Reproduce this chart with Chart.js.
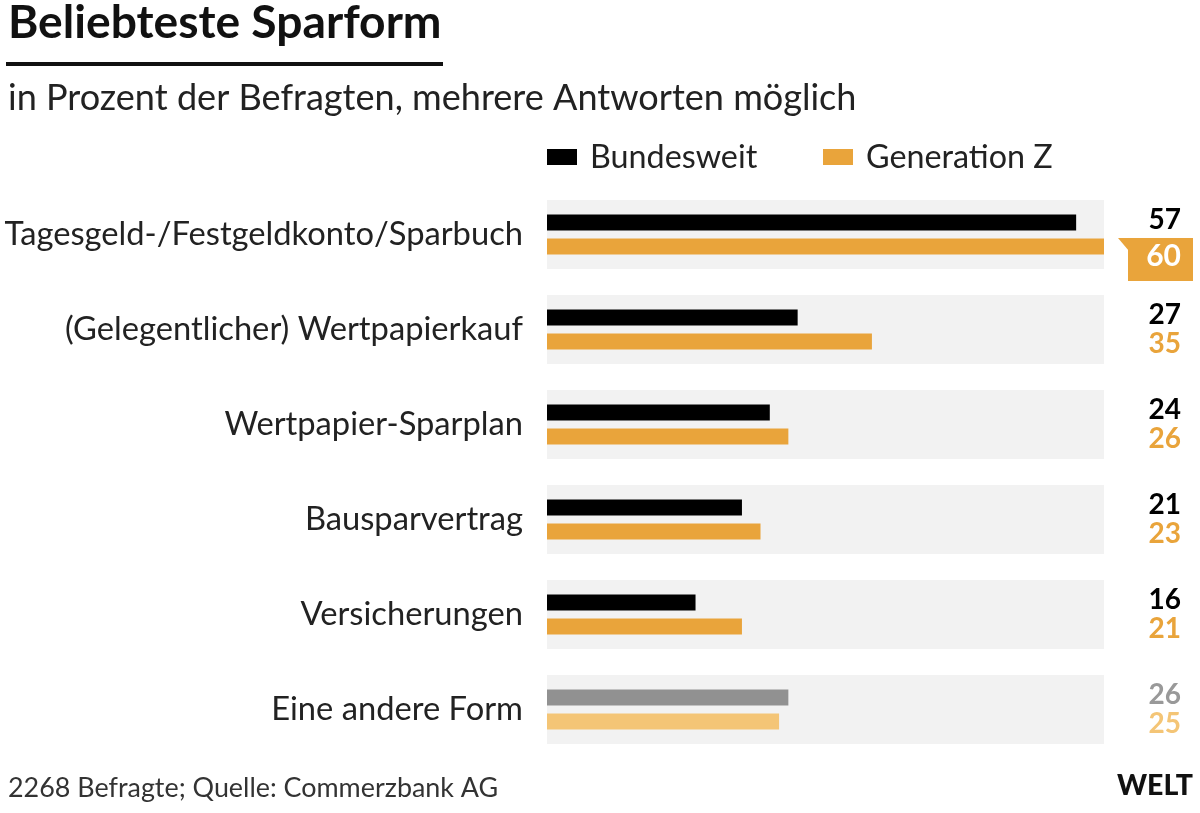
<!DOCTYPE html>
<html>
<head>
<meta charset="utf-8">
<script src="https://cdn.jsdelivr.net/npm/chart.js@4.4.1/dist/chart.umd.min.js"></script>
<style>
  html, body { margin: 0; padding: 0; background: #fff; }
  #wrap { width: 1200px; height: 813px; }
</style>
</head>
<body>
<div id="wrap"><canvas id="chart" width="1200" height="813"></canvas></div>
<script>
// data
const categories = [
  'Tagesgeld-/Festgeldkonto/Sparbuch',
  '(Gelegentlicher) Wertpapierkauf',
  'Wertpapier-Sparplan',
  'Bausparvertrag',
  'Versicherungen',
  'Eine andere Form'
];
const bundesweit = [57, 27, 24, 21, 16, 26];
const generationZ = [60, 35, 26, 23, 21, 25];
const seriesNames = ['Bundesweit', 'Generation Z'];
const axisMax = 60;
const highlightIndex = 0;

const FONT = 'Lato, "Noto Sans", sans-serif';
const BLACK = '#000000';
const ORANGE = '#E9A43B';
const GREY = '#919191';
const LIGHT_ORANGE = '#F4C576';
const BAND = '#F2F2F2';

const last = categories.length - 1;
const blackColors = bundesweit.map((v, i) => i === last ? GREY : BLACK);
const orangeColors = generationZ.map((v, i) => i === last ? LIGHT_ORANGE : ORANGE);
const blackTextColors = bundesweit.map((v, i) => i === last ? '#999999' : BLACK);
const orangeTextColors = generationZ.map((v, i) => i === last ? LIGHT_ORANGE : ORANGE);

// pick font sizes so texts take about the same width as in the picture
const mctx = document.createElement('canvas').getContext('2d');
function fitSize(text, weight, target) {
  mctx.font = weight + ' 100px ' + FONT;
  return Math.round(1000 * target / mctx.measureText(text).width) / 10;
}
const titleSize = fitSize('Beliebteste Sparform', 'bold', 434);
const subSize = fitSize('in Prozent der Befragten, mehrere Antworten möglich', 'normal', 850);
const legendSize = fitSize('Bundesweit', 'normal', 167);
const labelSize = fitSize(categories[0], 'normal', 518);
const footSize = fitSize('2268 Befragte; Quelle: Commerzbank AG', 'normal', 490);
const logoSize = fitSize('WELT', '900', 76);

// grey band behind each category
const bandPlugin = {
  id: 'bands',
  beforeDatasetsDraw(chart) {
    const { ctx, scales: { x, y } } = chart;
    const x0 = x.getPixelForValue(0);
    const x1 = x.getPixelForValue(axisMax);
    ctx.save();
    ctx.fillStyle = BAND;
    categories.forEach((c, i) => {
      const yc = y.getPixelForValue(i);
      ctx.fillRect(x0, yc - 34.5, x1 - x0, 69);
    });
    ctx.restore();
  }
};

// numbers on the right
const valuePlugin = {
  id: 'values',
  afterDatasetsDraw(chart) {
    const { ctx } = chart;
    const m0 = chart.getDatasetMeta(0).data;
    const m1 = chart.getDatasetMeta(1).data;
    const xr = 1181;
    ctx.save();
    ctx.font = 'bold 28px ' + FONT;
    ctx.textAlign = 'right';
    ctx.textBaseline = 'alphabetic';
    bundesweit.forEach((v, i) => {
      ctx.fillStyle = blackTextColors[i];
      ctx.fillText(String(v), xr, m0[i].y + 6);
    });
    generationZ.forEach((v, i) => {
      const yc = m1[i].y;
      if (i === highlightIndex) {
        const top = yc - 8.5;
        ctx.fillStyle = ORANGE;
        ctx.fillRect(1128, top, 65, 43);
        ctx.beginPath();
        ctx.moveTo(1118, top);
        ctx.lineTo(1129, top);
        ctx.lineTo(1129, top + 13);
        ctx.closePath();
        ctx.fill();
        ctx.fillStyle = '#ffffff';
        ctx.font = 'bold 30px ' + FONT;
        ctx.fillText(String(v), xr, yc + 20);
        ctx.font = 'bold 28px ' + FONT;
      } else {
        ctx.fillStyle = orangeTextColors[i];
        ctx.fillText(String(v), xr, yc + 12);
      }
    });
    ctx.restore();
  }
};

// title, subtitle, legend, footer, logo
const framePlugin = {
  id: 'frame',
  afterDraw(chart) {
    const { ctx } = chart;
    ctx.save();
    ctx.textBaseline = 'alphabetic';
    ctx.textAlign = 'left';

    ctx.fillStyle = '#111';
    ctx.font = 'bold ' + titleSize + 'px ' + FONT;
    ctx.fillText('Beliebteste Sparform', 8, 38);
    ctx.fillRect(6, 62, 437, 4);

    ctx.fillStyle = '#222';
    ctx.font = subSize + 'px ' + FONT;
    ctx.fillText('in Prozent der Befragten, mehrere Antworten möglich', 8, 110);

    ctx.font = legendSize + 'px ' + FONT;
    ctx.fillStyle = BLACK;
    ctx.fillRect(547, 149, 30, 16);
    ctx.fillStyle = '#222';
    ctx.fillText(seriesNames[0], 590, 168);
    ctx.fillStyle = ORANGE;
    ctx.fillRect(823, 149, 30, 16);
    ctx.fillStyle = '#222';
    ctx.fillText(seriesNames[1], 866, 168);

    ctx.fillStyle = '#333';
    ctx.font = footSize + 'px ' + FONT;
    ctx.fillText('2268 Befragte; Quelle: Commerzbank AG', 8, 797);

    ctx.fillStyle = '#111';
    ctx.font = '900 ' + logoSize + 'px ' + FONT;
    ctx.textAlign = 'right';
    ctx.fillText('WELT', 1193, 795);
    ctx.restore();
  }
};

const ctx = document.getElementById('chart').getContext('2d');
const chart = new Chart(ctx, {
  type: 'bar',
  data: {
    labels: categories,
    datasets: [{
      label: seriesNames[0],
      data: bundesweit,
      backgroundColor: blackColors,
      borderWidth: 0,
      categoryPercentage: 0.505,
      barPercentage: 0.667
    }, {
      label: seriesNames[1],
      data: generationZ,
      backgroundColor: orangeColors,
      borderWidth: 0,
      categoryPercentage: 0.505,
      barPercentage: 0.667
    }]
  },
  options: {
    indexAxis: 'y',
    responsive: false,
    animation: false,
    devicePixelRatio: 1,
    layout: {
      padding: { top: 187, bottom: 56, left: 0, right: 96 }
    },
    plugins: {
      legend: { display: false },
      tooltip: { enabled: false }
    },
    scales: {
      x: {
        display: false,
        min: 0,
        max: axisMax
      },
      y: {
        afterFit(scale) { scale.width = 547; },
        grid: { display: false, drawTicks: false },
        border: { display: false },
        ticks: {
          padding: 24,
          color: '#222',
          font: { family: FONT, size: labelSize }
        }
      }
    }
  },
  plugins: [bandPlugin, valuePlugin, framePlugin]
});
</script>
</body>
</html>
